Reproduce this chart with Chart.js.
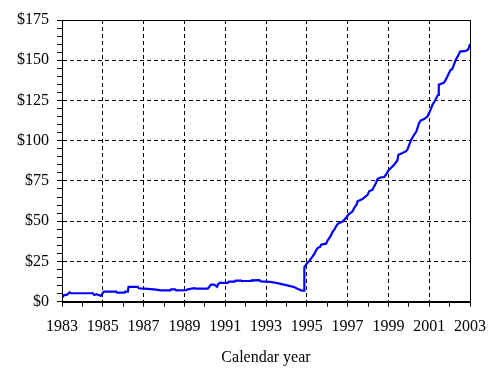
<!DOCTYPE html>
<html>
<head>
<meta charset="utf-8">
<script src="https://cdn.jsdelivr.net/npm/chart.js@4/dist/chart.umd.min.js"></script>
<style>
  html, body { margin: 0; padding: 0; background: #fff; }
  #wrap { width: 497px; height: 379px; }
</style>
</head>
<body>
<div id="wrap"><canvas id="c" width="497" height="379"></canvas></div>
<script>
// Time (calendar year, decimal) and value in dollars
const years = [
  1983.00, 1983.08, 1983.25, 1983.37, 1983.45, 1984.52, 1984.58, 1984.70, 1984.80, 1984.90,
  1985.05, 1985.66, 1985.70, 1986.07, 1986.10, 1986.23, 1986.26, 1986.72, 1986.76, 1987.04,
  1987.50, 1987.86, 1988.30, 1988.35, 1988.55, 1988.60, 1989.08, 1989.16, 1989.50, 1989.55,
  1990.15, 1990.30, 1990.45, 1990.55, 1990.60, 1990.65, 1990.73, 1991.13, 1991.18, 1991.46,
  1991.50, 1991.78, 1991.82, 1992.27, 1992.30, 1992.68, 1992.75, 1993.20, 1993.50, 1993.82,
  1994.15, 1994.40, 1994.60, 1994.75, 1994.87, 1994.88, 1995.00, 1995.13, 1995.25, 1995.37,
  1995.45, 1995.53, 1995.65, 1995.70, 1995.94, 1996.02, 1996.10, 1996.18, 1996.27, 1996.35,
  1996.43, 1996.51, 1996.59, 1996.76, 1996.92, 1997.00, 1997.08, 1997.24, 1997.32, 1997.44,
  1997.49, 1997.73, 1997.98, 1998.06, 1998.22, 1998.30, 1998.39, 1998.47, 1998.63, 1998.79,
  1998.88, 1999.00, 1999.12, 1999.28, 1999.44, 1999.49, 1999.69, 1999.85, 1999.93, 2000.10,
  2000.26, 2000.37, 2000.50, 2000.58, 2000.75, 2000.91, 2000.99, 2001.08, 2001.16, 2001.29,
  2001.40, 2001.45, 2001.47, 2001.73, 2001.81, 2001.97, 2002.05, 2002.13, 2002.30, 2002.46,
  2002.51, 2002.79, 2002.92, 2003.00
];
const values = [
  2.3, 3.9, 4.3, 5.8, 5.2, 5.2, 4.1, 4.6, 4.1, 3.5,
  6.2, 6.2, 5.6, 5.6, 6.2, 6.2, 9.1, 9.1, 8.3, 8.1,
  7.6, 7.0, 7.0, 7.6, 7.6, 7.0, 7.1, 7.6, 8.3, 8.1,
  8.1, 10.6, 10.6, 9.8, 9.3, 10.8, 11.6, 11.6, 12.4, 12.4,
  13.0, 13.0, 12.8, 12.8, 13.2, 13.4, 12.6, 12.2, 11.6, 10.7,
  9.8, 8.9, 7.6, 6.8, 6.8, 21.5, 23.6, 25.4, 27.5, 29.6,
  31.7, 33.3, 34.0, 35.4, 36.0, 38.0, 39.5, 41.0, 43.6, 44.7,
  46.7, 48.2, 48.8, 49.8, 51.9, 53.4, 54.6, 56.0, 58.2, 60.2,
  62.3, 63.7, 66.4, 68.5, 69.5, 71.6, 73.7, 76.2, 77.2, 77.4,
  78.8, 81.5, 83.0, 85.1, 87.7, 91.2, 92.3, 93.3, 94.4, 100.1,
  103.7, 105.7, 110.9, 112.5, 113.4, 115.0, 117.1, 119.6, 122.3, 125.0,
  127.9, 128.5, 134.7, 136.1, 137.8, 142.0, 144.0, 144.4, 150.2, 153.9,
  155.4, 155.8, 156.8, 160.1
];
const xTickLabels = ['1983','1985','1987','1989','1991','1993','1995','1997','1999','2001','2003'];
const yTickLabels = ['$0','$25','$50','$75','$100','$125','$150','$175'];
const xTitle = 'Calendar year';

const points = years.map((x, i) => ({ x: x, y: values[i] }));

const frame = {
  id: 'frame',
  afterDraw(chart) {
    const a = chart.chartArea, ctx = chart.ctx;
    ctx.save();
    ctx.strokeStyle = '#000';
    ctx.lineWidth = 1;
    ctx.strokeRect(Math.round(a.left) + 0.5, Math.round(a.top) + 0.5,
                   Math.round(a.right - a.left), Math.round(a.bottom - a.top));
    ctx.restore();
  }
};

Chart.defaults.font.family = '"Liberation Serif", "Times New Roman", serif';
Chart.defaults.font.size = 16;
Chart.defaults.color = '#000';

new Chart(document.getElementById('c'), {
  type: 'scatter',
  data: {
    datasets: [{
      data: points,
      showLine: true,
      borderColor: '#0000ff',
      borderWidth: 2.2,
      pointRadius: 0,
      tension: 0,
      fill: false
    }]
  },
  options: {
    responsive: false,
    animation: false,
    devicePixelRatio: 1,
    layout: { padding: { left: 9, right: 26, top: 20, bottom: 12 } },
    plugins: { legend: { display: false }, tooltip: { enabled: false } },
    scales: {
      x: {
        type: 'linear',
        min: 1983, max: 2003,
        ticks: {
          stepSize: 1, autoSkip: false, maxRotation: 0, padding: 11,
          callback: (v) => {
            const s = String(Math.round(v));
            return xTickLabels.includes(s) ? s : '';
          }
        },
        grid: {
          color: (c) => {
            const v = c.tick ? Math.round(c.tick.value) : 0;
            return ((v - 1983) % 2 === 0) ? '#000' : 'rgba(0,0,0,0)';
          },
          drawTicks: true,
          tickColor: '#000',
          tickWidth: 1,
          tickBorderDash: [],
          tickLength: 5,
          lineWidth: 1
        },
        border: { display: true, color: '#000', width: 1, dash: [4, 3] },
        title: { display: true, text: xTitle, padding: { top: 0, bottom: 0 } }
      },
      y: {
        min: 0, max: 175,
        ticks: {
          stepSize: 5, autoSkip: false, padding: 8,
          callback: (v) => {
            const s = '$' + Math.round(v);
            return yTickLabels.includes(s) ? s : '';
          }
        },
        grid: {
          color: (c) => {
            const v = c.tick ? Math.round(c.tick.value) : 1;
            return (v % 25 === 0) ? '#000' : 'rgba(0,0,0,0)';
          },
          drawTicks: true,
          tickColor: '#000',
          tickWidth: 1,
          tickBorderDash: [],
          tickLength: 5,
          lineWidth: 1
        },
        border: { display: true, color: '#000', width: 1, dash: [4, 3] }
      }
    }
  },
  plugins: [frame]
});
</script>
</body>
</html>
